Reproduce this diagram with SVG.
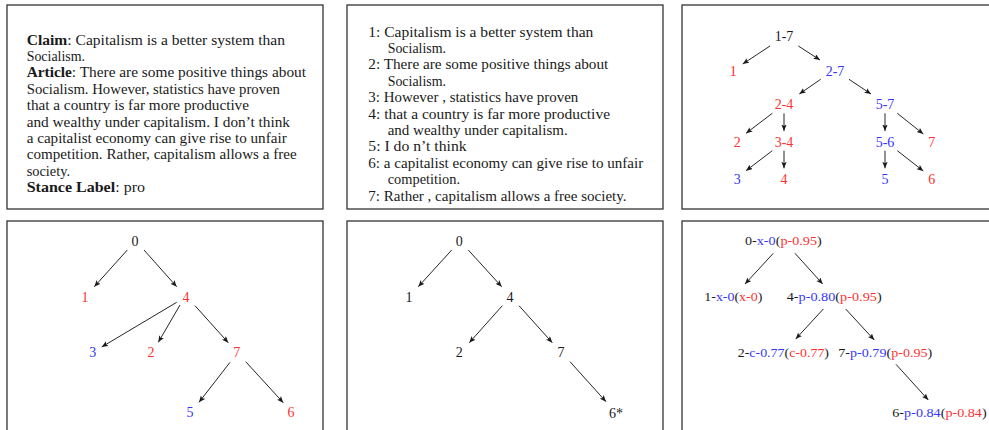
<svg xmlns="http://www.w3.org/2000/svg" width="989" height="430" viewBox="0 0 989 430">
<style>
.panel{fill:#fff;stroke:#333;stroke-width:1.3}
text{font-family:"Liberation Serif","Times New Roman",serif;fill:#1a1a1a}
.t{font-size:13.8px}
.n{font-size:14px;text-anchor:middle}
.m{font-size:13px}
.k{fill:#1a1a1a}
.r{fill:#ff3030}
.b{fill:#3535ff}
.bold{font-weight:bold}
.e{stroke:#1a1a1a;stroke-width:0.95;fill:none;marker-end:url(#ah)}
</style>
<defs>
<marker id="ah" markerUnits="userSpaceOnUse" markerWidth="8" markerHeight="6" refX="6.5" refY="2.7" orient="auto">
<path d="M0,0 L6.5,2.7 L0,5.4 L1.4,2.7 z" fill="#1a1a1a"/>
</marker>
</defs>
<rect width="989" height="430" fill="#fff"/>
<g id="panels">
<rect class="panel" x="7" y="5" width="316" height="204"/>
<rect class="panel" x="347" y="5" width="316" height="204"/>
<rect class="panel" x="682" y="5" width="320" height="204"/>
<rect class="panel" x="7" y="221" width="316" height="215"/>
<rect class="panel" x="347" y="221" width="316" height="215"/>
<rect class="panel" x="682" y="221" width="320" height="215"/>
</g>
<g id="article" class="t">
<text x="26.7" y="44.7" textLength="258.3" lengthAdjust="spacingAndGlyphs"><tspan class="bold">Claim</tspan>: Capitalism is a better system than</text>
<text x="26.7" y="61.1" textLength="58.3" lengthAdjust="spacingAndGlyphs">Socialism.</text>
<text x="26.7" y="77.4" textLength="279.3" lengthAdjust="spacingAndGlyphs"><tspan class="bold">Article</tspan>: There are some positive things about</text>
<text x="26.7" y="93.8" textLength="253.3" lengthAdjust="spacingAndGlyphs">Socialism. However, statistics have proven</text>
<text x="26.7" y="110.2" textLength="222.3" lengthAdjust="spacingAndGlyphs">that a country is far more productive</text>
<text x="26.7" y="126.6" textLength="263.3" lengthAdjust="spacingAndGlyphs">and wealthy under capitalism. I don’t think</text>
<text x="26.7" y="142.9" textLength="260" lengthAdjust="spacingAndGlyphs">a capitalist economy can give rise to unfair</text>
<text x="26.7" y="159.3" textLength="270" lengthAdjust="spacingAndGlyphs">competition. Rather, capitalism allows a free</text>
<text x="26.7" y="175.7" textLength="43.3" lengthAdjust="spacingAndGlyphs">society.</text>
<text x="26.7" y="192" textLength="118.3" lengthAdjust="spacingAndGlyphs"><tspan class="bold">Stance Label</tspan>: pro</text>
</g>
<g id="segments" class="t">
<text x="368.3" y="36.5" textLength="225" lengthAdjust="spacingAndGlyphs">1: Capitalism is a better system than</text>
<text x="387.7" y="52.9" textLength="58.3" lengthAdjust="spacingAndGlyphs">Socialism.</text>
<text x="368.3" y="69.3" textLength="240" lengthAdjust="spacingAndGlyphs">2: There are some positive things about</text>
<text x="387.7" y="85.7" textLength="58.3" lengthAdjust="spacingAndGlyphs">Socialism.</text>
<text x="368.3" y="102.1" textLength="210" lengthAdjust="spacingAndGlyphs">3: However , statistics have proven</text>
<text x="368.3" y="118.5" textLength="241.7" lengthAdjust="spacingAndGlyphs">4: that a country is far more productive</text>
<text x="387.7" y="134.9" textLength="180" lengthAdjust="spacingAndGlyphs">and wealthy under capitalism.</text>
<text x="368.3" y="151.3" textLength="98.3" lengthAdjust="spacingAndGlyphs">5: I do n’t think</text>
<text x="368.3" y="167.7" textLength="275" lengthAdjust="spacingAndGlyphs">6: a capitalist economy can give rise to unfair</text>
<text x="387.7" y="184.1" textLength="72.3" lengthAdjust="spacingAndGlyphs">competition.</text>
<text x="368.3" y="200.5" textLength="258.3" lengthAdjust="spacingAndGlyphs">7: Rather , capitalism allows a free society.</text>
</g>
<g id="connectors">
<line class="e" x1="770" y1="46" x2="742.7" y2="64"/>
<line class="e" x1="798.3" y1="46" x2="820" y2="60"/>
<line class="e" x1="820.7" y1="79.3" x2="799.3" y2="94"/>
<line class="e" x1="849" y1="79.3" x2="871" y2="94"/>
<line class="e" x1="772.3" y1="113.3" x2="746" y2="133.3"/>
<line class="e" x1="784" y1="113.3" x2="784" y2="131"/>
<line class="e" x1="885" y1="113.3" x2="885" y2="131"/>
<line class="e" x1="897.3" y1="113.3" x2="923.3" y2="134"/>
<line class="e" x1="772.3" y1="150.7" x2="746" y2="170.7"/>
<line class="e" x1="784" y1="150.7" x2="784" y2="168.3"/>
<line class="e" x1="885" y1="150.7" x2="885" y2="168.3"/>
<line class="e" x1="897.3" y1="150.7" x2="923.3" y2="171"/>
<line class="e" x1="127.3" y1="250" x2="94.3" y2="286.7"/>
<line class="e" x1="144" y1="250" x2="176.7" y2="286.7"/>
<line class="e" x1="176.7" y1="302.3" x2="101.7" y2="347"/>
<line class="e" x1="180" y1="305" x2="158.3" y2="342.3"/>
<line class="e" x1="195" y1="305.7" x2="228.3" y2="342.7"/>
<line class="e" x1="230" y1="362.3" x2="199" y2="402.3"/>
<line class="e" x1="245.7" y1="361.7" x2="283.3" y2="402.7"/>
<line class="e" x1="451.7" y1="250" x2="418.3" y2="286.7"/>
<line class="e" x1="468.3" y1="250" x2="501.7" y2="286.7"/>
<line class="e" x1="502.3" y1="305.7" x2="469.3" y2="342.7"/>
<line class="e" x1="519" y1="305.7" x2="552.3" y2="342.7"/>
<line class="e" x1="570" y1="361.7" x2="606" y2="401.7"/>
<line class="e" x1="773.3" y1="253.3" x2="745" y2="284"/>
<line class="e" x1="795" y1="253.3" x2="822.7" y2="284"/>
<line class="e" x1="823.3" y1="309" x2="795.7" y2="339"/>
<line class="e" x1="845.7" y1="309" x2="874.3" y2="340"/>
<line class="e" x1="896" y1="364.3" x2="928.3" y2="400"/>
</g>
<g id="tree1" class="n">
<g id="t1-n17"><text x="784" y="41" class="k">1-7</text></g>
<g id="t1-n1"><text x="733.3" y="75.7" class="r">1</text></g>
<g id="t1-n27"><text x="835" y="75.7" class="b">2-7</text></g>
<g id="t1-n24"><text x="784" y="109.3" class="r">2-4</text></g>
<g id="t1-n57"><text x="885" y="109.3" class="b">5-7</text></g>
<g id="t1-n2"><text x="737.3" y="146.7" class="r">2</text></g>
<g id="t1-n34"><text x="784" y="146.7" class="r">3-4</text></g>
<g id="t1-n56"><text x="885" y="146.7" class="b">5-6</text></g>
<g id="t1-n7"><text x="931.7" y="146.7" class="r">7</text></g>
<g id="t1-n3"><text x="737.3" y="184" class="b">3</text></g>
<g id="t1-n4"><text x="784" y="184" class="r">4</text></g>
<g id="t1-n5"><text x="885" y="184" class="b">5</text></g>
<g id="t1-n6"><text x="931.7" y="184" class="r">6</text></g>
</g>
<g id="tree2" class="n">
<g id="t2-n0"><text x="135" y="246" class="k">0</text></g>
<g id="t2-n1"><text x="85" y="301.7" class="r">1</text></g>
<g id="t2-n4"><text x="186" y="301.7" class="r">4</text></g>
<g id="t2-n3"><text x="92.7" y="357.3" class="b">3</text></g>
<g id="t2-n2"><text x="151" y="357.3" class="r">2</text></g>
<g id="t2-n7"><text x="236.7" y="357.3" class="r">7</text></g>
<g id="t2-n5"><text x="190" y="417.3" class="b">5</text></g>
<g id="t2-n6"><text x="291" y="417.3" class="r">6</text></g>
</g>
<g id="tree3" class="n">
<g id="t3-n0"><text x="459.3" y="246">0</text></g>
<g id="t3-n1"><text x="409" y="301.7">1</text></g>
<g id="t3-n4"><text x="510" y="301.7">4</text></g>
<g id="t3-n2"><text x="459.3" y="357.3">2</text></g>
<g id="t3-n7"><text x="561" y="357.3">7</text></g>
<g id="t3-n6"><text x="616" y="418.3">6*</text></g>
</g>
<g id="tree4" class="m">
<g id="t4-n0"><text x="745" y="244.8" textLength="76.7" lengthAdjust="spacingAndGlyphs"><tspan class="k">0-</tspan><tspan class="b">x-0</tspan><tspan class="k">(</tspan><tspan class="r">p-0.95</tspan><tspan class="k">)</tspan></text></g>
<g id="t4-n1"><text x="704.3" y="301.1" textLength="58" lengthAdjust="spacingAndGlyphs"><tspan class="k">1-</tspan><tspan class="b">x-0</tspan><tspan class="k">(</tspan><tspan class="r">x-0</tspan><tspan class="k">)</tspan></text></g>
<g id="t4-n4"><text x="786.7" y="301.1" textLength="95" lengthAdjust="spacingAndGlyphs"><tspan class="k">4-</tspan><tspan class="b">p-0.80</tspan><tspan class="k">(</tspan><tspan class="r">p-0.95</tspan><tspan class="k">)</tspan></text></g>
<g id="t4-n2"><text x="737.7" y="356.5" textLength="91.3" lengthAdjust="spacingAndGlyphs"><tspan class="k">2-</tspan><tspan class="b">c-0.77</tspan><tspan class="k">(</tspan><tspan class="r">c-0.77</tspan><tspan class="k">)</tspan></text></g>
<g id="t4-n7"><text x="838.3" y="356.5" textLength="94" lengthAdjust="spacingAndGlyphs"><tspan class="k">7-</tspan><tspan class="b">p-0.79</tspan><tspan class="k">(</tspan><tspan class="r">p-0.95</tspan><tspan class="k">)</tspan></text></g>
<g id="t4-n6"><text x="892.3" y="416.5" textLength="94.4" lengthAdjust="spacingAndGlyphs"><tspan class="k">6-</tspan><tspan class="b">p-0.84</tspan><tspan class="k">(</tspan><tspan class="r">p-0.84</tspan><tspan class="k">)</tspan></text></g>
</g>
</svg>
